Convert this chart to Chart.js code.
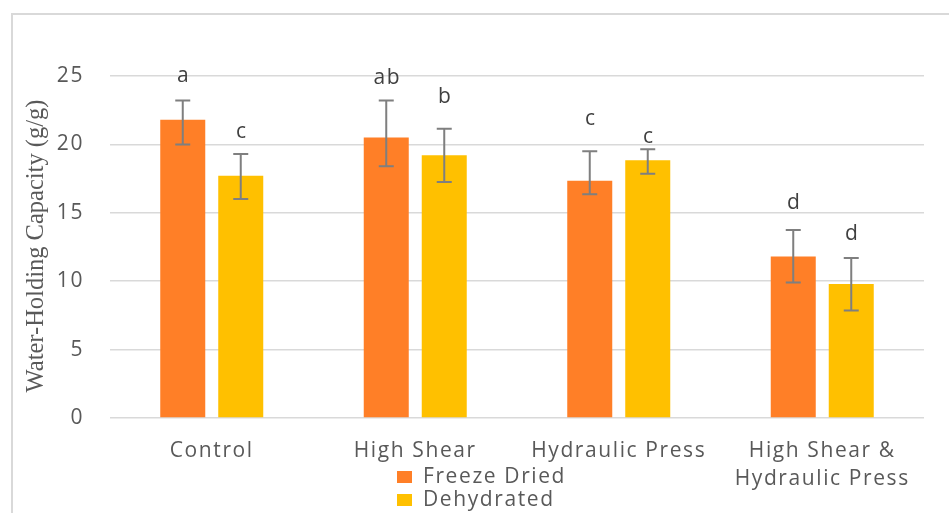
<!DOCTYPE html>
<html>
<head>
<meta charset="utf-8">
<script src="https://cdn.jsdelivr.net/npm/chart.js@4/dist/chart.umd.min.js"></script>
<style>
html,body{margin:0;padding:0;background:#fff;}
canvas{display:block;}
</style>
</head>
<body>
<canvas id="c" width="949" height="513"></canvas>
<script>
const categories = ["Control", "High Shear", "Hydraulic Press", ["High Shear &", "Hydraulic Press"]];
const seriesNames = ["Freeze Dried", "Dehydrated"];
const freezeDried = [21.8, 20.5, 17.35, 11.8];
const dehydrated = [17.7, 19.2, 18.85, 9.8];
const freezeDriedUpper = [23.2, 23.2, 19.5, 13.75];
const freezeDriedLower = [20.0, 18.4, 16.35, 9.9];
const dehydratedUpper = [19.3, 21.15, 19.65, 11.7];
const dehydratedLower = [16.0, 17.25, 17.85, 7.85];
const freezeDriedLetters = ["a", "ab", "c", "d"];
const dehydratedLetters = ["c", "b", "c", "d"];
const freezeDriedLetterAt = [25.0, 24.85, 21.85, 15.75];
const dehydratedLetterAt = [20.9, 23.5, 20.55, 13.45];
const yTicks = [0, 5, 10, 15, 20, 25];
const yTitle = "Water-Holding Capacity (g/g)";

const TEXT = "#595959";
const SPACING = "1.6px";
const FONT = "21px 'Open Sans'";

const errorSets = [
  {upper: freezeDriedUpper, lower: freezeDriedLower, letters: freezeDriedLetters, at: freezeDriedLetterAt},
  {upper: dehydratedUpper, lower: dehydratedLower, letters: dehydratedLetters, at: dehydratedLetterAt}
];

const decor = {
  id: "decor",
  beforeDraw(chart) {
    const ctx = chart.ctx;
    ctx.letterSpacing = SPACING;
    ctx.save();
    ctx.fillStyle = "#fff";
    ctx.fillRect(0, 0, chart.width, chart.height);
    ctx.strokeStyle = "#d9d9d9";
    ctx.lineWidth = 2;
    ctx.strokeRect(12, 14, 1000, 600);
    ctx.restore();
  },
  afterDatasetsDraw(chart) {
    const ctx = chart.ctx;
    const y = chart.scales.y;
    ctx.save();
    errorSets.forEach((es, i) => {
      const meta = chart.getDatasetMeta(i);
      meta.data.forEach((bar, j) => {
        const x = bar.x;
        const yt = y.getPixelForValue(es.upper[j]);
        const yb = y.getPixelForValue(es.lower[j]);
        ctx.strokeStyle = "#7f7f7f";
        ctx.lineWidth = 2;
        ctx.beginPath();
        ctx.moveTo(x, yt); ctx.lineTo(x, yb);
        ctx.moveTo(x - 7.5, yt); ctx.lineTo(x + 7.5, yt);
        ctx.moveTo(x - 7.5, yb); ctx.lineTo(x + 7.5, yb);
        ctx.stroke();
        ctx.fillStyle = "#404040";
        ctx.font = FONT;
        ctx.letterSpacing = SPACING;
        ctx.textAlign = "center";
        ctx.textBaseline = "middle";
        ctx.fillText(es.letters[j], x + 1, y.getPixelForValue(es.at[j]));
      });
    });
    ctx.restore();
  },
  afterDraw(chart) {
    const ctx = chart.ctx;
    ctx.save();
    ctx.letterSpacing = "0px";
    ctx.translate(37, 246);
    ctx.rotate(-Math.PI / 2);
    ctx.fillStyle = TEXT;
    ctx.font = "24.5px 'Liberation Serif'";
    ctx.textAlign = "center";
    ctx.textBaseline = "middle";
    ctx.fillText(yTitle, 0, 0);
    ctx.restore();
    ctx.save();
    ctx.letterSpacing = SPACING;
    ctx.font = FONT;
    ctx.textBaseline = "middle";
    ctx.textAlign = "left";
    const rows = [477, 500];
    chart.data.datasets.forEach((ds, i) => {
      ctx.fillStyle = ds.backgroundColor;
      ctx.fillRect(397, rows[i] - 6, 15, 12);
      ctx.fillStyle = TEXT;
      ctx.fillText(ds.label, 423, rows[i]);
    });
    ctx.restore();
  }
};

new Chart(document.getElementById("c"), {
  type: "bar",
  data: {
    labels: categories,
    datasets: [
      {label: seriesNames[0], data: freezeDried, backgroundColor: "#FF7F27", borderWidth: 0},
      {label: seriesNames[1], data: dehydrated, backgroundColor: "#FFC000", borderWidth: 0}
    ]
  },
  options: {
    responsive: false,
    animation: false,
    devicePixelRatio: 1,
    layout: {padding: {top: 76, right: 25, left: 0, bottom: 0}},
    datasets: {bar: {categoryPercentage: 0.57, barPercentage: 0.776}},
    plugins: {legend: {display: false}, tooltip: {enabled: false}},
    scales: {
      x: {
        grid: {display: false},
        border: {display: false},
        ticks: {color: TEXT, font: {family: "'Open Sans'", size: 21, lineHeight: 1.33}, padding: 11, maxRotation: 0, autoSkip: false},
        afterFit(s) { s.height = 95; }
      },
      y: {
        min: 0, max: 25,
        afterBuildTicks(s) { s.ticks = yTicks.map(v => ({value: v})); },
        grid: {color: "#d9d9d9", lineWidth: 1.5, drawTicks: false},
        border: {display: false},
        ticks: {color: TEXT, font: {family: "'Open Sans'", size: 21}, padding: 26},
        afterFit(s) { s.width = 110; }
      }
    }
  },
  plugins: [decor]
});
</script>
</body>
</html>
